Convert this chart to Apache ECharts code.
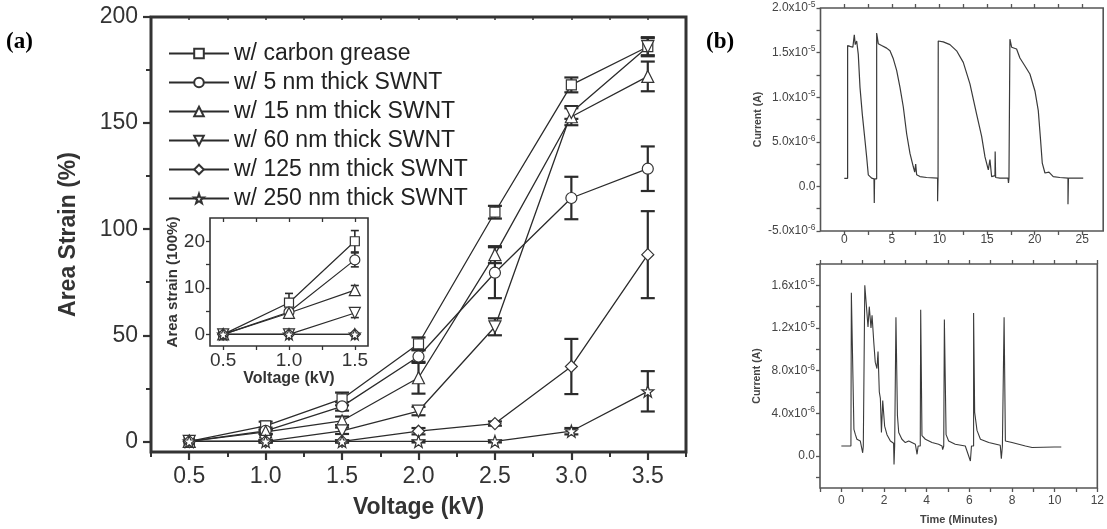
<!DOCTYPE html>
<html><head><meta charset="utf-8">
<script src="https://cdn.jsdelivr.net/npm/echarts@6/dist/echarts.min.js"></script>
<style>html,body{margin:0;padding:0;background:#fff}#c{width:1107px;height:529px}</style>
</head><body><div id="c"></div>
<script>
// ---------- Panel (a) data ----------
const voltages = [0.5, 1.0, 1.5, 2.0, 2.5, 3.0, 3.5];
const seriesNames = ['w/ carbon grease', 'w/ 5 nm thick SWNT', 'w/ 15 nm thick SWNT',
  'w/ 60 nm thick SWNT', 'w/ 125 nm thick SWNT', 'w/ 250 nm thick SWNT'];
const greaseStrain = [0, 7.3, 20, 46, 108, 168, 186];
const greaseErr    = [0, 2, 3, 3, 3, 3.5, 4.5];
const swnt5Strain  = [0, 5, 16.5, 40, 79.5, 114.7, 128.5];
const swnt5Err     = [0, 1.5, 2, 3, 12, 10, 10.5];
const swnt15Strain = [0, 4.5, 9.7, 30, 88, 153, 172];
const swnt15Err    = [0, 1, 2, 7.5, 4, 4, 7];
const swnt60Strain = [0, 0, 5, 14.3, 54, 155, 186];
const swnt60Err    = [0, 0.5, 1.5, 2, 4, 3, 4];
const swnt125Strain = [0, 0, 0, 4.8, 8.4, 35.3, 88];
const swnt125Err    = [0, 0.5, 0.5, 1.5, 1, 13, 20.5];
const swnt250Strain = [0, 0, 0, 0, 0, 4.8, 23.6];
const swnt250Err    = [0, 0.5, 0.5, 0.5, 0.5, 1.5, 9.5];

const mainXLabels = [0.5, 1.0, 1.5, 2.0, 2.5, 3.0, 3.5];
const mainXMinor  = [0.25, 0.75, 1.25, 1.75, 2.25, 2.75, 3.25, 3.75];
const mainXAll    = [0.25, 0.5, 0.75, 1.0, 1.25, 1.5, 1.75, 2.0, 2.25, 2.5, 2.75, 3.0, 3.25, 3.5, 3.75];
const mainYLabels = [0, 50, 100, 150, 200];
const mainYMinor  = [25, 75, 125, 175];

// Inset data
const insetVoltages = [0.5, 1.0, 1.5];
const insetGrease = [0, 6.8, 20];
const insetGreaseErr = [0, 2, 2.3];
const inset5 = [0, 4.8, 16];
const inset5Err = [0, 0.5, 1.5];
const inset15 = [0, 4.6, 9.5];
const inset15Err = [0, 0.7, 1];
const inset60 = [0, 0, 4.6];
const inset60Err = [0, 0.3, 1];
const inset125 = [0, 0, 0];
const inset125Err = [0, 0.3, 0.3];
const inset250 = [0, 0, 0];
const inset250Err = [0, 0.3, 0.3];
const insetXLabels = [0.5, 1.0, 1.5];
const insetXTicks = [0.5, 0.75, 1.0, 1.25, 1.5];
const insetYLabels = [0, 10, 20];
const insetYTicks = [0, 5, 10, 15, 20];

// ---------- Panel (b) data ----------
const bTopTime = [0, 0.35, 0.35, 0.6, 0.9, 1.05, 1.15, 1.3, 1.47, 1.65, 1.89, 2.17, 2.35, 2.52, 2.87, 3.12, 3.15, 3.18,
  3.4, 3.4, 3.57, 3.7, 3.92, 4.45, 4.8, 5.15, 5.5, 5.85, 6.2, 6.55, 6.9, 7.25, 7.4, 7.5, 7.6, 7.95, 8.65, 9.8, 9.8, 9.85,
  9.87, 10.4, 11.1, 11.8, 12.5, 13.2, 13.9, 14.43, 14.78, 15.13, 15.3, 15.48, 15.83, 15.85, 15.9, 16.35, 17.2, 17.25, 17.3,
  17.4, 17.4, 17.58, 18.1, 18.45, 18.98, 19.5, 20.03, 20.38, 20.62, 20.8, 21.08, 21.5, 21.95, 22.65, 23.5, 23.5, 23.55, 25.1];
const bTopCurrent = [0.9e-6, 0.9e-6, 15.8e-6, 15.7e-6, 15.6e-6, 17.0e-6, 15.9e-6, 16.3e-6, 14.8e-6, 11.1e-6, 8.1e-6, 5.2e-6, 3.3e-6, 1.3e-6, 0.93e-6, 0.85e-6, -1.85e-6, 0.85e-6,
  0.85e-6, 17.2e-6, 16.0e-6, 16.1e-6, 15.8e-6, 15.5e-6, 15.2e-6, 14.3e-6, 13.0e-6, 11.1e-6, 8.9e-6, 5.9e-6, 3.7e-6, 2.2e-6, 1.6e-6, 2.5e-6, 1.3e-6, 1.1e-6, 1.0e-6, 0.93e-6, -1.67e-6, 0.93e-6,
  16.3e-6, 16.2e-6, 15.9e-6, 15.2e-6, 13.9e-6, 11.5e-6, 8.1e-6, 5.6e-6, 3.3e-6, 1.85e-6, 3.0e-6, 1.1e-6, 1.2e-6, 3.9e-6, 1.0e-6, 0.93e-6, 0.93e-6, 0.4e-6, 0.93e-6,
  0.93e-6, 16.5e-6, 15.6e-6, 15.4e-6, 14.4e-6, 13.5e-6, 12.6e-6, 10.7e-6, 8.5e-6, 5.2e-6, 2.6e-6, 1.5e-6, 1.6e-6, 1.1e-6, 1.0e-6, 0.93e-6, -2.0e-6, 0.93e-6, 0.93e-6];

const bBotTime = [0, 0.45, 0.47, 0.53, 0.59, 0.66, 0.73, 0.89, 0.97, 1.0, 1.03, 1.08, 1.1, 1.17, 1.25, 1.31, 1.39, 1.44, 1.52,
  1.59, 1.67, 1.72, 1.78, 1.83, 1.88, 1.94, 2.03, 2.14, 2.3, 2.45, 2.47, 2.5, 2.56, 2.56, 2.63, 2.69, 2.84, 3.0, 3.16, 3.47,
  3.55, 3.6, 3.7, 3.72, 3.78, 3.94, 4.25, 4.56, 4.72, 4.75, 4.8, 4.83, 4.91, 5.03, 5.34, 5.81, 6.05, 6.1, 6.2, 6.2, 6.25,
  6.36, 6.52, 6.91, 7.45, 7.5, 7.55, 7.63, 7.63, 7.69, 8.0, 8.63, 8.94, 9.98, 10.31];
const bBotCurrent = [0.94e-6, 0.94e-6, 15.3e-6, 15.4e-6, 2.5e-6, 2.0e-6, 1.57e-6, 1.4e-6, 1.26e-6, 0.3e-6, 0.94e-6, 0.94e-6, 16.0e-6, 14.2e-6, 12.1e-6, 14.0e-6, 12.0e-6, 13.2e-6, 10.7e-6,
  8.8e-6, 8.2e-6, 9.8e-6, 6.0e-6, 5.4e-6, 2.2e-6, 5.2e-6, 2.8e-6, 2.0e-6, 1.4e-6, 1.2e-6, -0.8e-6, 0.94e-6, 0.94e-6, 13.0e-6, 3.8e-6, 2.2e-6, 1.57e-6, 1.26e-6, 1.4e-6, 1.1e-6,
  0.16e-6, 0.94e-6, 0.94e-6, 13.7e-6, 1.9e-6, 1.57e-6, 1.26e-6, 1.1e-6, 0.94e-6, 0.6e-6, 0.94e-6, 12.8e-6, 2.0e-6, 1.4e-6, 1.1e-6, 0.94e-6, -0.47e-6, 0.94e-6, 0.94e-6, 13.4e-6, 4.1e-6,
  2.4e-6, 1.57e-6, 1.26e-6, 1.0e-6, -0.25e-6, 0.94e-6, 0.94e-6, 13.0e-6, 1.4e-6, 1.26e-6, 0.94e-6, 0.8e-6, 0.85e-6, 0.85e-6];

const bTopXLabels = [0, 5, 10, 15, 20, 25];
const bTopXTicks = [0, 2.5, 5, 7.5, 10, 12.5, 15, 17.5, 20, 22.5, 25];
const bTopYLabels = [-5e-6, 0, 5e-6, 1e-5, 1.5e-5, 2e-5];
const bTopYTicks = [-5e-6, -2.5e-6, 0, 2.5e-6, 5e-6, 7.5e-6, 1e-5, 1.25e-5, 1.5e-5, 1.75e-5, 2e-5];
const bBotXLabels = [0, 2, 4, 6, 8, 10, 12];
const bBotXTicks = [-1, 0, 1, 2, 3, 4, 5, 6, 7, 8, 9, 10, 11, 12];
const bBotYLabels = [0, 4e-6, 8e-6, 1.2e-5, 1.6e-5];
const bBotYTicks = [-2e-6, 0, 2e-6, 4e-6, 6e-6, 8e-6, 1e-5, 1.2e-5, 1.4e-5, 1.6e-5, 1.8e-5];

// ---------- styling ----------
const INK = '#2b2b2b';
const FONT = 'Liberation Sans, Arial, sans-serif';
const starPath = 'path://M0,-10 L2.35,-3.24 L9.51,-3.09 L3.8,1.24 L5.88,8.09 L0,4 L-5.88,8.09 L-3.8,1.24 L-9.51,-3.09 L-2.35,-3.24 Z';
const symbols = ['rect', 'circle', 'triangle', 'triangle', 'diamond', starPath];
const rotations = [0, 0, 0, 180, 0, 0];
const symSizes = [10, 11, 12, 12, 12, 12];
const mainVals = [greaseStrain, swnt5Strain, swnt15Strain, swnt60Strain, swnt125Strain, swnt250Strain];
const mainErrs = [greaseErr, swnt5Err, swnt15Err, swnt60Err, swnt125Err, swnt250Err];
const insetVals = [insetGrease, inset5, inset15, inset60, inset125, inset250];
const insetErrs = [insetGreaseErr, inset5Err, inset15Err, inset60Err, inset125Err, inset250Err];

function errRender(capHalf, lw) {
  return function (params, api) {
    const x = api.value(0), y = api.value(1), e = api.value(2);
    if (!e) return { type: 'group', children: [] };
    const t = api.coord([x, y + e]), b = api.coord([x, y - e]);
    const cx = t[0];
    const st = { stroke: INK, lineWidth: lw };
    return { type: 'group', children: [
      { type: 'line', shape: { x1: cx, y1: t[1], x2: cx, y2: b[1] }, style: st },
      { type: 'line', shape: { x1: cx - capHalf, y1: t[1], x2: cx + capHalf, y2: t[1] }, style: st },
      { type: 'line', shape: { x1: cx - capHalf, y1: b[1], x2: cx + capHalf, y2: b[1] }, style: st }
    ] };
  };
}

function sci(v) {
  if (Math.abs(v) < 1e-12) return '{m|0.0}';
  const ex = Math.floor(Math.log10(Math.abs(v)) + 1e-9);
  const m = (v / Math.pow(10, ex)).toFixed(1);
  return '{m|' + m + 'x10}{s|' + ex + '}';
}
const sciRich = {
  m: { fontSize: 12, color: '#444', fontFamily: FONT },
  s: { fontSize: 8.5, color: '#444', fontFamily: FONT, padding: [0, 0, 7, 0] }
};

const series = [];
for (let i = 0; i < 6; i++) {
  series.push({
    type: 'custom', name: 'err' + i, xAxisIndex: 0, yAxisIndex: 0, z: 1,
    renderItem: errRender(7, 2.2), encode: { x: 0, y: 1 },
    data: voltages.map((v, k) => [v, mainVals[i][k], mainErrs[i][k]])
  });
  series.push({
    type: 'line', name: seriesNames[i], xAxisIndex: 0, yAxisIndex: 0, z: 3,
    data: voltages.map((v, k) => [v, mainVals[i][k]]),
    symbol: symbols[i], symbolRotate: rotations[i], symbolSize: symSizes[i], showAllSymbol: true,
    lineStyle: { color: INK, width: 1.3 },
    itemStyle: { color: '#fff', borderColor: '#333', borderWidth: 1.2 },
    emphasis: { disabled: true }, animation: false
  });
  series.push({
    type: 'custom', name: 'insetErr' + i, xAxisIndex: 3, yAxisIndex: 2, z: 1,
    renderItem: errRender(4, 1.6), encode: { x: 0, y: 1 },
    data: insetVoltages.map((v, k) => [v, insetVals[i][k], insetErrs[i][k]])
  });
  series.push({
    type: 'line', name: 'inset ' + seriesNames[i], xAxisIndex: 3, yAxisIndex: 2, z: 3,
    data: insetVoltages.map((v, k) => [v, insetVals[i][k]]),
    symbol: symbols[i], symbolRotate: rotations[i], symbolSize: symSizes[i] - 1, showAllSymbol: true,
    lineStyle: { color: INK, width: 1.2 },
    itemStyle: { color: '#fff', borderColor: '#333', borderWidth: 1.2 },
    emphasis: { disabled: true }, animation: false
  });
}
series.push({
  type: 'line', name: 'bTop', xAxisIndex: 5, yAxisIndex: 3, showSymbol: false,
  data: bTopTime.map((t, k) => [t, bTopCurrent[k]]),
  lineStyle: { color: '#3a3a3a', width: 1.2 }, animation: false
});
series.push({
  type: 'line', name: 'bBot', xAxisIndex: 7, yAxisIndex: 4, showSymbol: false,
  data: bBotTime.map((t, k) => [t, bBotCurrent[k]]),
  lineStyle: { color: '#3a3a3a', width: 1.1 }, animation: false
});

function ax(o) {
  return Object.assign({
    type: 'value', splitLine: { show: false },
    axisLine: { show: false, onZero: false }
  }, o);
}

const option = {
  backgroundColor: '#fff',
  animation: false,
  textStyle: { fontFamily: FONT },
  grid: [
    { left: 151, top: 17, width: 535, height: 435, show: true, borderColor: '#333', borderWidth: 3, backgroundColor: 'transparent' },
    { left: 210, top: 218, width: 158, height: 128, show: true, borderColor: '#333', borderWidth: 1.6, backgroundColor: '#fff' },
    { left: 820.5, top: 6, width: 282.7, height: 225, show: true, borderColor: '#555', borderWidth: 1.6, backgroundColor: 'transparent' },
    { left: 820, top: 264, width: 279, height: 224, show: true, borderColor: '#555', borderWidth: 1.6, backgroundColor: 'transparent' }
  ],
  xAxis: [
    ax({ gridIndex: 0, position: 'bottom', min: 0.25, max: 3.75,
      axisTick: { show: true, length: 8, inside: false, customValues: mainXLabels, lineStyle: { color: '#333', width: 2.2 } },
      axisLabel: { customValues: mainXLabels, fontSize: 23, color: '#333', margin: 13, formatter: v => v.toFixed(1) },
      name: 'Voltage (kV)', nameLocation: 'middle', nameGap: 44,
      nameTextStyle: { fontSize: 23, fontWeight: 'bold', color: '#333' } }),
    ax({ gridIndex: 0, position: 'bottom', min: 0.25, max: 3.75,
      axisTick: { show: true, length: 5, customValues: mainXMinor, lineStyle: { color: '#333', width: 2 } },
      axisLabel: { show: false } }),
    ax({ gridIndex: 0, position: 'top', min: 0.25, max: 3.75,
      axisTick: { show: true, length: 3, inside: true, customValues: mainXAll, lineStyle: { color: '#333', width: 1.5 } },
      axisLabel: { show: false } }),
    ax({ gridIndex: 1, position: 'bottom', min: 0.4, max: 1.6,
      axisTick: { show: true, length: 4, customValues: insetXTicks, lineStyle: { color: '#333', width: 1.3 } },
      axisLabel: { customValues: insetXLabels, fontSize: 19, color: '#333', margin: 5, formatter: v => v.toFixed(1) },
      name: 'Voltage (kV)', nameLocation: 'middle', nameGap: 24,
      nameTextStyle: { fontSize: 16, fontWeight: 'bold', color: '#333' } }),
    ax({ gridIndex: 1, position: 'top', min: 0.4, max: 1.6,
      axisTick: { show: true, length: 4, inside: true, customValues: insetXTicks, lineStyle: { color: '#333', width: 1.3 } },
      axisLabel: { show: false } }),
    ax({ gridIndex: 2, position: 'bottom', min: -2.5, max: 27.2,
      axisTick: { show: true, length: 4, customValues: bTopXTicks, lineStyle: { color: '#555', width: 1.3 } },
      axisLabel: { customValues: bTopXLabels, fontSize: 12, color: '#444', margin: 3 } }),
    ax({ gridIndex: 2, position: 'top', min: -2.5, max: 27.2,
      axisTick: { show: true, length: 4, customValues: bTopXTicks, lineStyle: { color: '#555', width: 1.3 } },
      axisLabel: { show: false } }),
    ax({ gridIndex: 3, position: 'bottom', min: -1, max: 12,
      axisTick: { show: true, length: 4, customValues: bBotXTicks, lineStyle: { color: '#555', width: 1.3 } },
      axisLabel: { customValues: bBotXLabels, fontSize: 12, color: '#444', margin: 7 },
      name: 'Time (Minutes)', nameLocation: 'middle', nameGap: 26,
      nameTextStyle: { fontSize: 11, fontWeight: 'bold', color: '#444' } }),
    ax({ gridIndex: 3, position: 'top', min: -1, max: 12,
      axisTick: { show: true, length: 4, customValues: bBotXTicks, lineStyle: { color: '#555', width: 1.3 } },
      axisLabel: { show: false } })
  ],
  yAxis: [
    ax({ gridIndex: 0, position: 'left', min: -5, max: 200,
      axisTick: { show: true, length: 8, customValues: mainYLabels, lineStyle: { color: '#333', width: 2.2 } },
      axisLabel: { customValues: mainYLabels, fontSize: 23, color: '#333', margin: 13 },
      name: 'Area Strain (%)', nameLocation: 'middle', nameGap: 71,
      nameTextStyle: { fontSize: 23, fontWeight: 'bold', color: '#333' } }),
    ax({ gridIndex: 0, position: 'left', min: -5, max: 200,
      axisTick: { show: true, length: 5, customValues: mainYMinor, lineStyle: { color: '#333', width: 2 } },
      axisLabel: { show: false } }),
    ax({ gridIndex: 1, position: 'left', min: -2.5, max: 25,
      axisTick: { show: true, length: 4, customValues: insetYTicks, lineStyle: { color: '#333', width: 1.3 } },
      axisLabel: { customValues: insetYLabels, fontSize: 19, color: '#333', margin: 5 },
      name: 'Area strain (100%)', nameLocation: 'middle', nameGap: 30,
      nameTextStyle: { fontSize: 15, fontWeight: 'bold', color: '#333' } }),
    ax({ gridIndex: 2, position: 'left', min: -5e-6, max: 2e-5,
      axisTick: { show: true, length: 4, customValues: bTopYTicks, lineStyle: { color: '#555', width: 1.3 } },
      axisLabel: { customValues: bTopYLabels, margin: 5, formatter: sci, rich: sciRich },
      name: 'Current (A)', nameLocation: 'middle', nameGap: 54,
      nameTextStyle: { fontSize: 10.5, fontWeight: 'bold', color: '#444' } }),
    ax({ gridIndex: 3, position: 'left', min: -3e-6, max: 1.8e-5,
      axisTick: { show: true, length: 4, customValues: bBotYTicks, lineStyle: { color: '#555', width: 1.3 } },
      axisLabel: { customValues: bBotYLabels, margin: 5, formatter: sci, rich: sciRich },
      name: 'Current (A)', nameLocation: 'middle', nameGap: 57,
      nameTextStyle: { fontSize: 10.5, fontWeight: 'bold', color: '#444' } })
  ],
  legend: {
    data: seriesNames, orient: 'vertical', left: 163, top: 37,
    itemWidth: 60, itemHeight: 12, itemGap: 6,
    textStyle: { fontSize: 23, lineHeight: 23, color: '#222', fontFamily: FONT },
    selectedMode: false
  },
  graphic: [
    { type: 'text', left: 6, top: 31, style: { text: '(a)', font: 'bold 23px "Liberation Serif", "Times New Roman", serif', fill: '#000' } },
    { type: 'text', left: 706, top: 31, style: { text: '(b)', font: 'bold 23px "Liberation Serif", "Times New Roman", serif', fill: '#000' } }
  ],
  series: series
};

const chart = echarts.init(document.getElementById('c'), null, { renderer: 'canvas' });
chart.setOption(option);
</script>
</body></html>
